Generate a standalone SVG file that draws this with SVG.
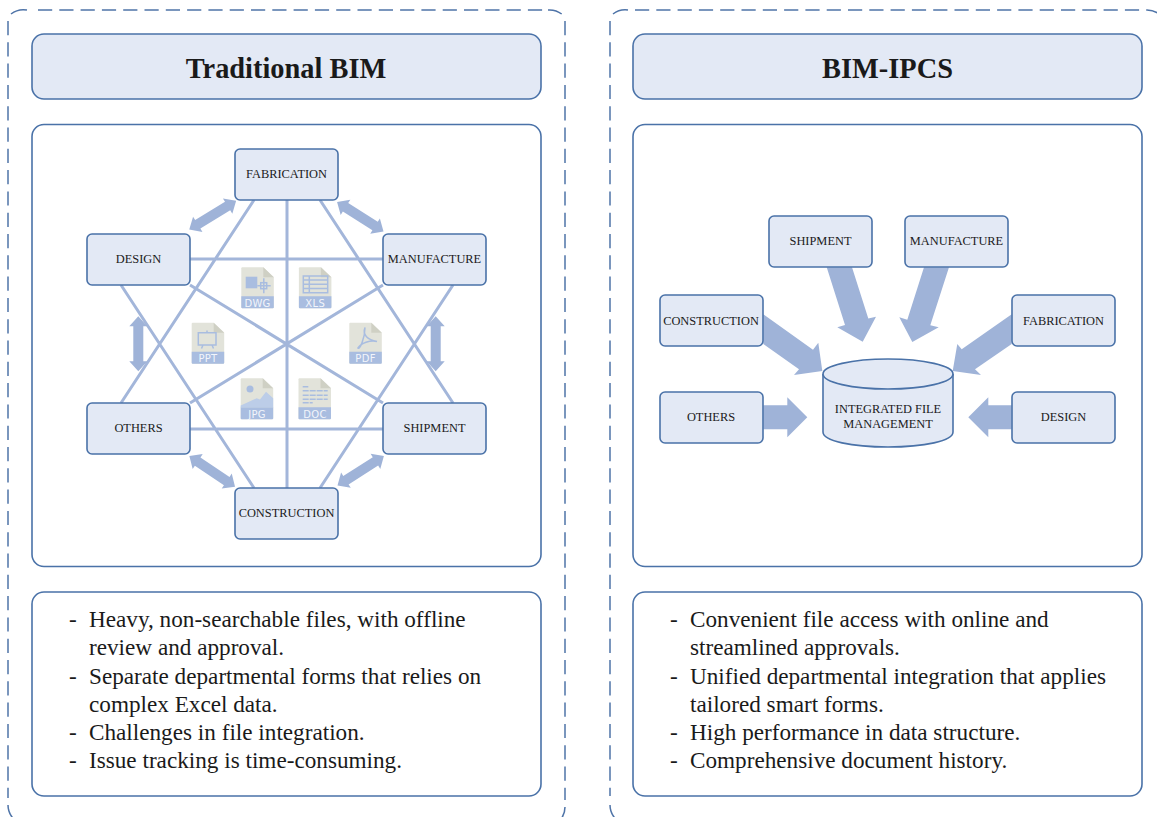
<svg xmlns="http://www.w3.org/2000/svg" width="1157" height="817" viewBox="0 0 1157 817">
<style>
.outer{fill:none;stroke:#4f74a8;stroke-width:1.5}
.dash{stroke-dasharray:14.200 7.100}
.panel{fill:#fff;stroke:#4a72a8;stroke-width:1.6}
.head{fill:#e3e9f5;stroke:#4a72a8;stroke-width:1.6}
.box{fill:#e3e9f5;stroke:#4a72a8;stroke-width:1.6}
.l{stroke:#a3b6da;stroke-width:3;fill:none}
.a{fill:#9fb3d8}
text{font-family:"Liberation Serif","Times New Roman",serif;fill:#1a1a1a}
.t{font-size:28.4px;font-weight:bold;text-anchor:middle}
.n{font-size:12.400px;text-anchor:middle}
.b{font-size:23.200px}
.doc{fill:#e2e3da}
.fold{fill:#cfd0c4}
.band{fill:#a9bde0}
.lab{font-family:"DejaVu Sans",sans-serif;font-size:10px;fill:#f2f5fb;text-anchor:middle;letter-spacing:.3px}
.ic{fill:none;stroke:#a9bde0;stroke-width:1.500}
</style>
<defs>
<g id="file">
<path class="doc" d="M1 0H22L32.500 10V40a1 1 0 0 1-1 1H1a1 1 0 0 1-1-1V1a1 1 0 0 1 1-1Z"/>
<path class="fold" d="M22 0L32.500 10H22Z"/>
<path class="band" d="M0 29H32.500V40a1 1 0 0 1-1 1H1a1 1 0 0 1-1-1Z"/>
</g>
<path id="da" class="a" d="M-27.500 0L-17.500 -9V-5H17.500V-9L27.500 0L17.500 9V5H-17.500V9Z"/>
</defs>
<g id="panel-left">
<path class="outer dash" d="M38 10H544M8 21V798M565 21V800"/>
<path class="outer" d="M11 14A20 20 0 0 1 27 10M548 10A20 20 0 0 1 561.700 14M8 805A20 20 0 0 0 28 825M565 807A20 20 0 0 1 545 827"/>
<rect class="head" x="32" y="34" width="509" height="65" rx="12"/>
<text class="t" x="286" y="78">Traditional BIM</text>
<rect class="panel" x="32" y="124.500" width="509" height="442" rx="12"/>
<rect class="panel" x="32" y="592" width="509" height="204" rx="12"/>
</g>
<g id="panel-right">
<path class="outer dash" d="M635 10H1147A20 20 0 0 1 1167 30M610 21V796"/>
<path class="outer" d="M613 14A20 20 0 0 1 628 10M610 805A20 20 0 0 0 630 825"/>
<rect class="head" x="633" y="34" width="509" height="65" rx="12"/>
<text class="t" x="887.500" y="78">BIM-IPCS</text>
<rect class="panel" x="633" y="124.500" width="509" height="442" rx="12"/>
<rect class="panel" x="633" y="592" width="509" height="204" rx="12"/>
</g>
<g id="connectors">
<path class="l" d="M190 259H383M190 429H383M287 200V488M254 200L121 403M320 200L453 403M190 285L383 403M190 403L383 285M121 285L254 488M453 285L320 488"/>
<use href="#da" transform="translate(212.700 215.200) rotate(-31.500)"/>
<use href="#da" transform="translate(360.300 216.700) rotate(32.400)"/>
<use href="#da" transform="translate(212.200 471.300) rotate(33.900)"/>
<use href="#da" transform="translate(360.700 470.800) rotate(-32.500)"/>
<use href="#da" transform="translate(138.300 343.700) rotate(90)"/>
<use href="#da" transform="translate(435.700 343.700) rotate(90)"/>
<path class="a" d="M826.700 267.300H852L868.300 318.500L876 316.700L862.700 341.700L837.300 327.300L845 325Z"/>
<path class="a" d="M924 267.300H949L930.300 325.300L938.700 327.300L912.300 342L899.300 317.300L907.300 319.700Z"/>
<path class="a" d="M763.300 314.300L813 349.700L818.300 342.700L822.300 371L794 375L799 369.300L763.300 344Z"/>
<path class="a" d="M1011.700 314.300L961.700 349.300L957.300 344L952.700 371L981 375L975 369.300L1011.700 344Z"/>
<path class="a" d="M763.300 405.300H787.300V397.300L807.300 417.300L787.300 437.300V429.300H763.300Z"/>
<path class="a" d="M1011.700 405.300H988.300V397.300L968.300 417.300L988.300 437.300V429.300H1011.700Z"/>
</g>
<g id="file-icons">
<g><use href="#file" x="241.300" y="267.300"/><rect x="245.700" y="276.700" width="11.600" height="11.600" fill="#a9bde0"/><path class="ic" d="M257.300 285.700H270.700M263.800 278.300V293.300"/><rect class="ic" x="260.700" y="282.700" width="6" height="6" fill="#e2e3da"/><text class="lab" x="257.500" y="306.700">DWG</text></g>
<g><use href="#file" x="298.900" y="267.300"/><path class="ic" d="M303.300 276H327.700V292.700H303.300ZM303.300 280H327.700M303.300 284.300H327.700M303.300 288.500H327.700M309.300 276V292.700"/><text class="lab" x="315.200" y="306.700">XLS</text></g>
<g><use href="#file" x="191.700" y="322.700"/><path class="ic" d="M198.300 332.700H216V345H198.300ZM207 330.500V332.700M203 345L201.500 348.500M212 345L213.500 348.500"/><text class="lab" x="208" y="362">PPT</text></g>
<g><use href="#file" x="349.300" y="322.700"/><path class="ic" d="M365 327.500C362 335 368 340 377 341.500C370 340 361 343 358 348C359.500 350.500 365 338 365 327.500Z"/><text class="lab" x="365.500" y="362">PDF</text></g>
<g><use href="#file" x="240.700" y="378.300"/><circle cx="250" cy="389" r="3.500" fill="#a9bde0"/><path d="M240.700 407.500V405.500L256.700 398.300L260 399.500L266 391.700L273.200 398.300V407.500Z" fill="#bccde8"/><text class="lab" x="257" y="417.700">JPG</text></g>
<g><use href="#file" x="298.500" y="378.300"/><path class="ic" d="M302.700 386.700H308.300M302.700 390.700H327.700M302.700 395.300H327.700M302.700 399.300H327.700M302.700 402.800H312.700" stroke-width="1.300" stroke-dasharray="6 1"/><text class="lab" x="315" y="417.700">DOC</text></g>
</g>
<g id="fabrication"><rect class="box" x="235" y="149" width="103" height="51" rx="5"/><text class="n" x="286.500" y="178">FABRICATION</text></g>
<g id="design"><rect class="box" x="87" y="234" width="103" height="51" rx="5"/><text class="n" x="138.500" y="263">DESIGN</text></g>
<g id="manufacture"><rect class="box" x="383" y="234" width="103" height="51" rx="5"/><text class="n" x="434.500" y="263">MANUFACTURE</text></g>
<g id="others"><rect class="box" x="87" y="403" width="103" height="51" rx="5"/><text class="n" x="138.500" y="432">OTHERS</text></g>
<g id="shipment"><rect class="box" x="383" y="403" width="103" height="51" rx="5"/><text class="n" x="434.500" y="432">SHIPMENT</text></g>
<g id="construction"><rect class="box" x="235" y="488" width="103" height="51" rx="5"/><text class="n" x="286.500" y="517">CONSTRUCTION</text></g>
<g id="r-shipment"><rect class="box" x="769" y="216" width="103" height="51" rx="5"/><text class="n" x="820.500" y="245">SHIPMENT</text></g>
<g id="r-manufacture"><rect class="box" x="905" y="216" width="103" height="51" rx="5"/><text class="n" x="956.500" y="245">MANUFACTURE</text></g>
<g id="r-construction"><rect class="box" x="660" y="295" width="103" height="51" rx="5"/><text class="n" x="711" y="325">CONSTRUCTION</text></g>
<g id="r-fabrication"><rect class="box" x="1012" y="295" width="103" height="51" rx="5"/><text class="n" x="1063.500" y="325">FABRICATION</text></g>
<g id="r-others"><rect class="box" x="660" y="392" width="103" height="51" rx="5"/><text class="n" x="711" y="421">OTHERS</text></g>
<g id="r-design"><rect class="box" x="1012" y="392" width="103" height="51" rx="5"/><text class="n" x="1063.500" y="421">DESIGN</text></g>
<g id="integrated-file-management">
<path class="box" d="M823 374V432C823 441 852 447 888 447C924 447 953 441 953 432V374"/>
<ellipse class="box" cx="888" cy="374" rx="65" ry="15"/>
<text class="n" x="888" y="413">INTEGRATED FILE</text>
<text class="n" x="888" y="428">MANAGEMENT</text>
</g>
<g id="text-left" class="b">
<text x="69" y="627">-</text><text x="89" y="627">Heavy, non-searchable files, with offline</text>
<text x="89" y="655">review and approval.</text>
<text x="69" y="684">-</text><text x="89" y="684">Separate departmental forms that relies on</text>
<text x="89" y="712">complex Excel data.</text>
<text x="69" y="740">-</text><text x="89" y="740">Challenges in file integration.</text>
<text x="69" y="768">-</text><text x="89" y="768">Issue tracking is time-consuming.</text>
</g>
<g id="text-right" class="b">
<text x="670" y="627">-</text><text x="690" y="627">Convenient file access with online and</text>
<text x="690" y="655">streamlined approvals.</text>
<text x="670" y="684">-</text><text x="690" y="684">Unified departmental integration that applies</text>
<text x="690" y="712">tailored smart forms.</text>
<text x="670" y="740">-</text><text x="690" y="740">High performance in data structure.</text>
<text x="670" y="768">-</text><text x="690" y="768">Comprehensive document history.</text>
</g>
</svg>
